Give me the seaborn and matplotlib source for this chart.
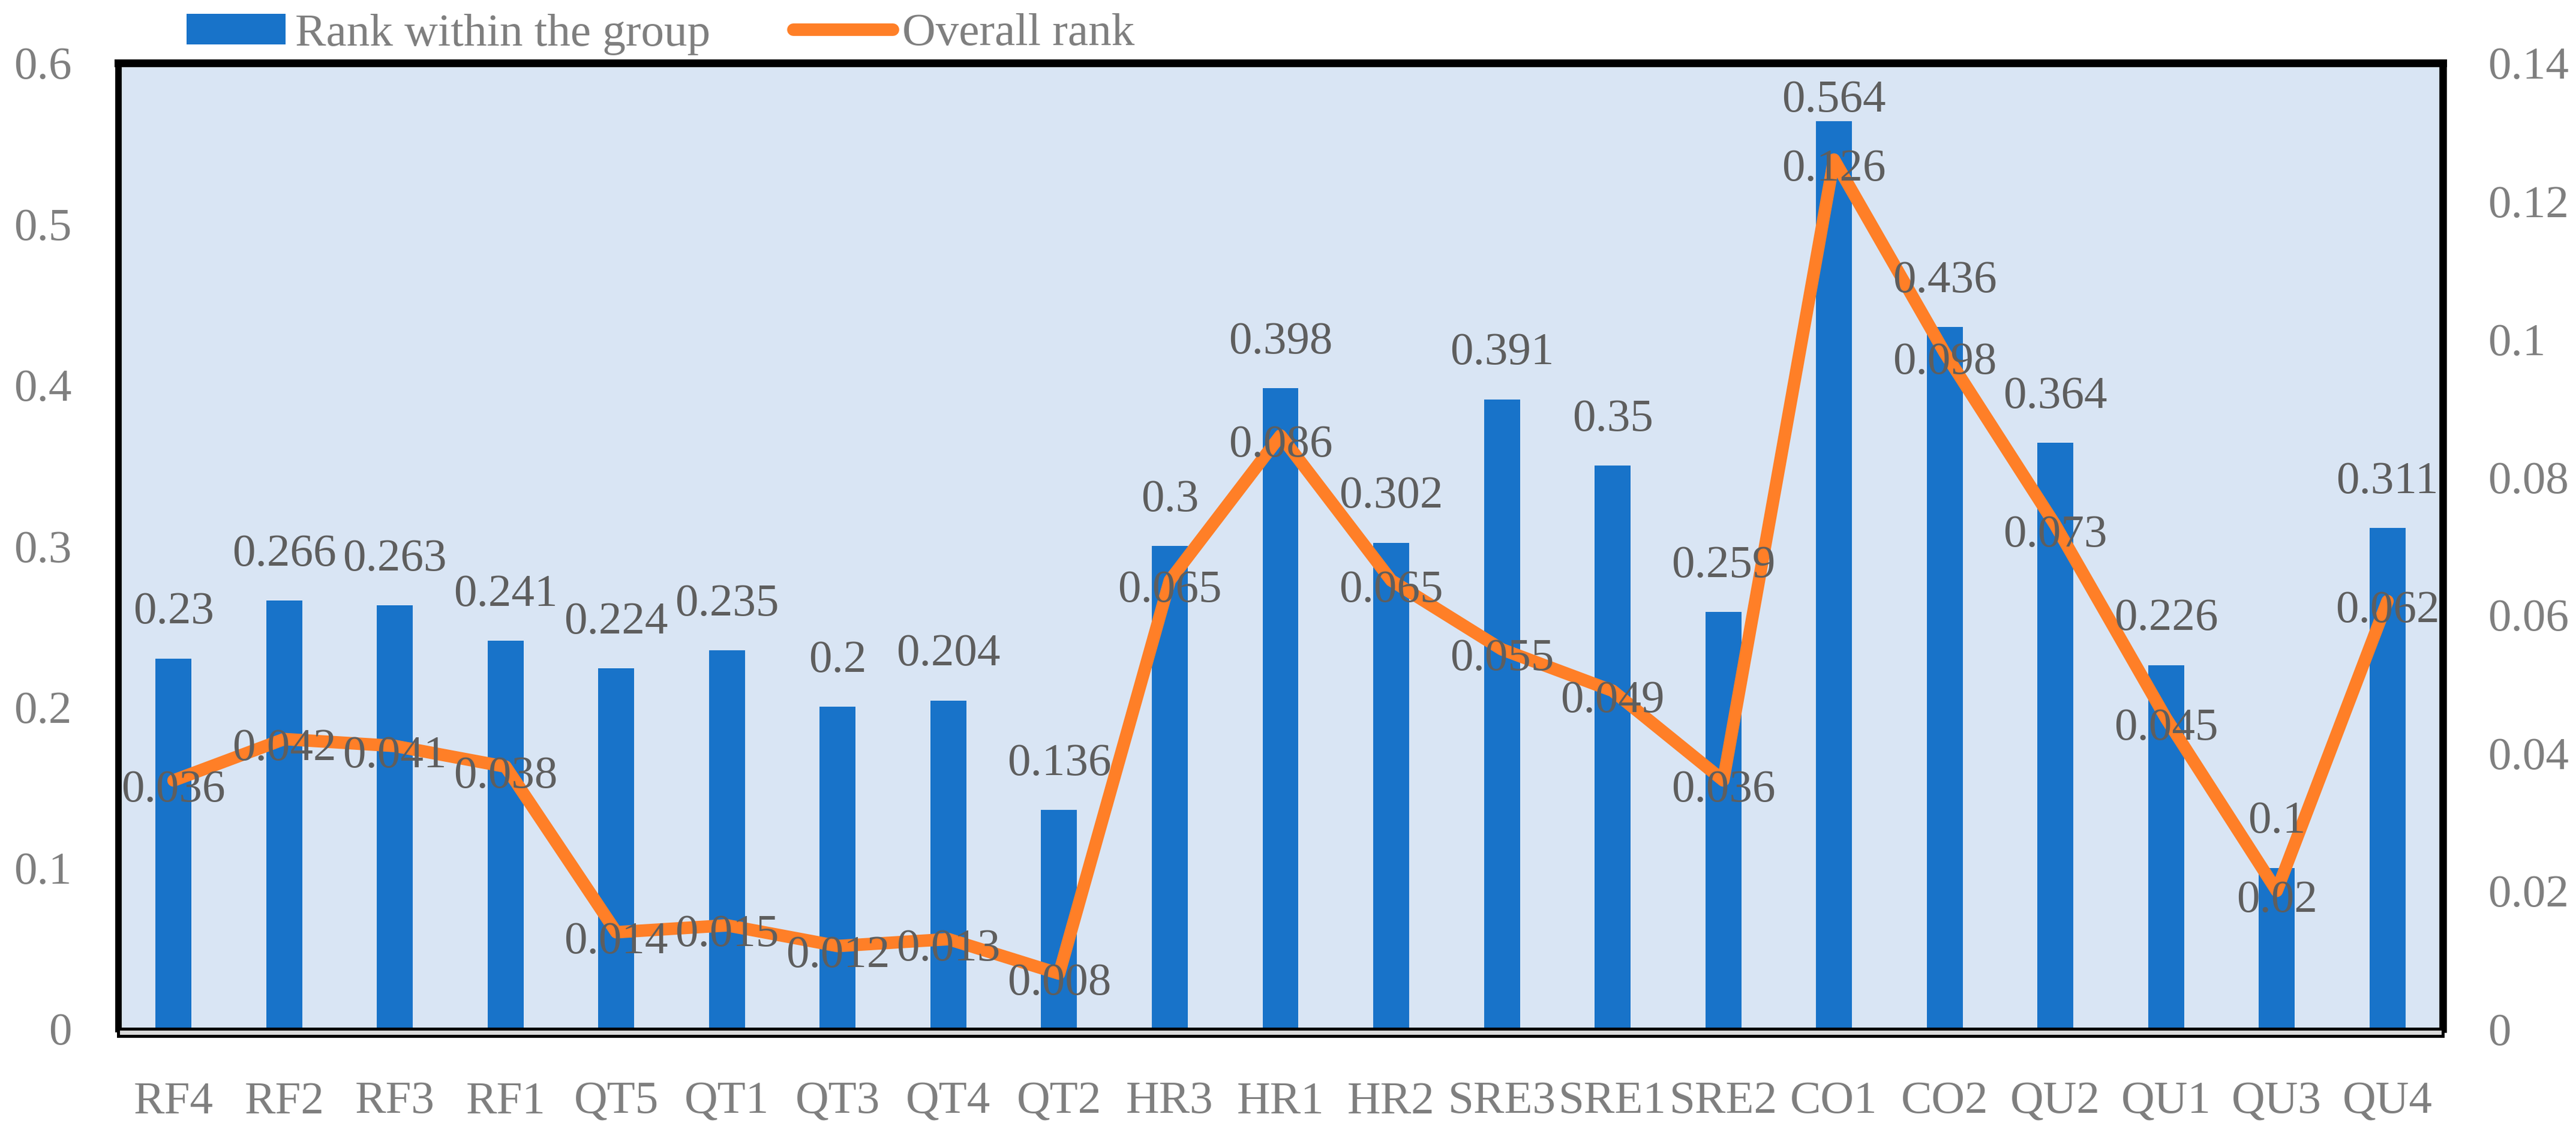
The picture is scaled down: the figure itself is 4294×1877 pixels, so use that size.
import numpy as np
import matplotlib
matplotlib.use('Agg')
import matplotlib.pyplot as plt
from matplotlib.patches import Rectangle, Patch
from matplotlib.lines import Line2D
from matplotlib.ticker import FuncFormatter, MultipleLocator
import seaborn as sns

# Data
indicators = ['RF4', 'RF2', 'RF3', 'RF1', 'QT5', 'QT1', 'QT3', 'QT4', 'QT2', 'HR3', 'HR1',
              'HR2', 'SRE3', 'SRE1', 'SRE2', 'CO1', 'CO2', 'QU2', 'QU1', 'QU3', 'QU4']
rank_in_group = [0.23, 0.266, 0.263, 0.241, 0.224, 0.235, 0.2, 0.204, 0.136, 0.3, 0.398,
                 0.302, 0.391, 0.35, 0.259, 0.564, 0.436, 0.364, 0.226, 0.1, 0.311]
overall_rank = [0.036, 0.042, 0.041, 0.038, 0.014, 0.015, 0.012, 0.013, 0.008, 0.065, 0.086,
                0.065, 0.055, 0.049, 0.036, 0.126, 0.098, 0.073, 0.045, 0.02, 0.062]

bar_blue = '#1873C9'
orange = '#FF7F27'
face = '#D9E5F4'
tick_grey = '#7F7F7F'
label_grey = '#5E5E5E'
fs = 18.5

sns.set_style('white')
plt.rcParams['font.family'] = ['Liberation Serif', 'DejaVu Serif']

W, H = 4294, 1877
fig = plt.figure(figsize=(W / 300, H / 300), dpi=300)
ax = fig.add_axes([197 / W, 1 - 1715 / H, (4072 - 197) / W, (1715 - 105) / H])
ax.set_facecolor(face)

# bars (left axis)
sns.barplot(x=indicators, y=rank_in_group, color=bar_blue, saturation=1,
            width=0.325, ax=ax, zorder=2, edgecolor='none', linewidth=0)
ax.set_xlim(-0.5, len(indicators) - 0.5)
ax.set_ylim(0, 0.6)
ax.yaxis.set_major_locator(MultipleLocator(0.1))

# line (right axis)
ax2 = ax.twinx()
sns.lineplot(x=np.arange(len(indicators)), y=overall_rank, ax=ax2, color=orange,
             lw=5, zorder=3)
ax2.set_ylim(0, 0.14)
ax2.yaxis.set_major_locator(MultipleLocator(0.02))
ax2.set_xlim(-0.5, len(indicators) - 0.5)

fmt = FuncFormatter(lambda v, p: f'{round(v, 3):g}')
ax.yaxis.set_major_formatter(fmt)
ax2.yaxis.set_major_formatter(fmt)

ax.set_xlabel('')
ax.set_ylabel('')
ax2.set_ylabel('')
ax.tick_params(axis='x', length=0, labelsize=fs, labelcolor=tick_grey, pad=21)
ax.tick_params(axis='y', length=0, labelsize=fs, labelcolor=tick_grey, pad=18.5)
ax2.tick_params(axis='y', length=0, labelsize=fs, labelcolor=tick_grey, pad=18)
ax.grid(False)
ax2.grid(False)

for s in ax2.spines.values():
    s.set_visible(False)
ax.spines['top'].set_linewidth(3.1)
ax.spines['right'].set_linewidth(3.0)
ax.spines['left'].set_linewidth(2.6)
ax.spines['bottom'].set_linewidth(1.0)
for s in ax.spines.values():
    s.set_color('black')

# data labels
for i, v in enumerate(rank_in_group):
    ax2.annotate(f'{v:g}', xy=(i, min(v, 0.548)), xycoords=ax.transData,
                 xytext=(0, 14), textcoords='offset points', ha='center', va='baseline',
                 fontsize=fs, color=label_grey, zorder=5)
for i, v in enumerate(overall_rank):
    ax2.annotate(f'{v:g}', xy=(i, v), xytext=(0, -8.4), textcoords='offset points',
                 ha='center', va='baseline', fontsize=fs, color=label_grey, zorder=5)

# floor strip under the plot area
fig.add_artist(Rectangle((197 / W, 1 - 1727 / H), (4072 - 197) / W, 12 / H,
                         transform=fig.transFigure, facecolor='#D9D9D9',
                         edgecolor='black', lw=1.2))

handles = [Patch(facecolor=bar_blue, edgecolor='none'),
           Line2D([], [], color=orange, lw=5, solid_capstyle='round')]
fig.legend(handles, ['Rank within the group', 'Overall rank'], loc='center left',
           bbox_to_anchor=(272 / W, 1 - 57 / H), ncol=2, frameon=False, fontsize=fs,
           handlelength=2.15, handleheight=0.63, handletextpad=0.2, columnspacing=1.8,
           borderpad=0, labelcolor=tick_grey)

fig.savefig('out.png', dpi=300)
